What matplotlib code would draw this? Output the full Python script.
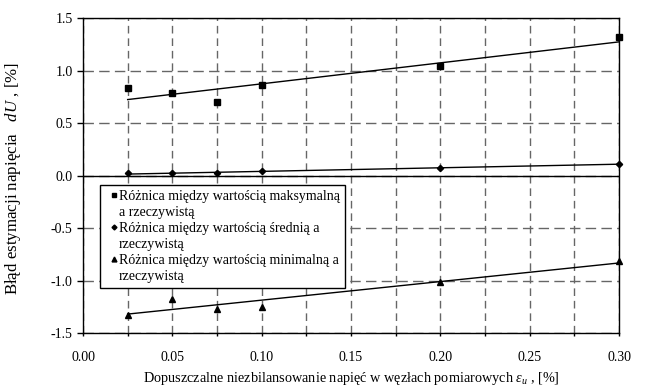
import numpy as np
import matplotlib
matplotlib.use("Agg")
import matplotlib.pyplot as plt
from matplotlib.lines import Line2D
from matplotlib.ticker import MultipleLocator, FormatStrFormatter

plt.rcParams['font.family'] = ['Liberation Serif', 'DejaVu Serif']
plt.rcParams['mathtext.fontset'] = 'custom'
plt.rcParams['mathtext.rm'] = 'Liberation Serif'
plt.rcParams['mathtext.it'] = 'Liberation Serif:italic'
plt.rcParams['axes.unicode_minus'] = False

# ---- data ----
eps = [0.025, 0.05, 0.075, 0.1, 0.2, 0.3]
diff_max = [0.84, 0.785, 0.70, 0.865, 1.045, 1.32]
diff_mean = [0.022, 0.022, 0.025, 0.048, 0.076, 0.111]
diff_min = [-1.325, -1.175, -1.27, -1.245, -1.015, -0.81]

labels_max = ["Różnica między wartością maksymalną", "a rzeczywistą"]
labels_mean = ["Różnica między wartością średnią a", "rzeczywistą"]
labels_min = ["Różnica między wartością minimalną a", "rzeczywistą"]

fig = plt.figure(figsize=(6.45, 3.89), dpi=100)
ax = fig.add_axes([83/645, 1 - 333.3/389, 536/645, 315/389])

ax.set_xlim(0, 0.30)
ax.set_ylim(-1.5, 1.5)

grid_color = '#666666'
ax.xaxis.set_major_locator(MultipleLocator(0.05))
ax.xaxis.set_minor_locator(MultipleLocator(0.025))
ax.yaxis.set_major_locator(MultipleLocator(0.5))
ax.xaxis.set_major_formatter(FormatStrFormatter('%.2f'))
ax.yaxis.set_major_formatter(FormatStrFormatter('%.1f'))
ax.grid(True, which='both', axis='x', color=grid_color, linewidth=1.0,
        linestyle=(0, (5.5, 3.5)))
ax.grid(True, which='major', axis='y', color=grid_color, linewidth=1.0,
        linestyle=(0, (7.5, 3.8)))
ax.set_axisbelow(True)
ax.axhline(0, color='black', linewidth=1.0, zorder=1.5)

ax.tick_params(axis='y', which='major', direction='out', length=4.5, width=1,
               pad=3, labelsize=10)
ax.tick_params(axis='x', which='both', direction='out', length=2, width=1,
               pad=11, labelsize=10)
ax.tick_params(axis='x', which='minor', labelbottom=False)
for s in ax.spines.values():
    s.set_linewidth(1.0)
    s.set_color('black')

xs = np.array(eps)
for vals, mk, ms in [(diff_max, 's', 5), (diff_mean, 'D', 3.2), (diff_min, '^', 5)]:
    ax.plot(eps, vals, linestyle='none', marker=mk, markersize=ms,
            color='black', zorder=3, clip_on=False)
    p = np.polyfit(xs, np.array(vals), 1)
    xl = np.array([eps[0], eps[-1]])
    ax.plot(xl, np.polyval(p, xl), color='black', linewidth=1.0, zorder=2.5)

ax.set_xlabel("Dopuszczalne niezbilansowanie napięć w węzłach pomiarowych $\\varepsilon_u$ , [%]",
              fontsize=10.3, labelpad=4)
ax.set_ylabel("Błąd estymacji napięcia   $dU$ , [%]", fontsize=12.2)
ax.yaxis.set_label_coords(-0.112, 0.491)

# legend (continuation lines get an empty handle)
empty = Line2D([], [], linestyle='none', marker=None)
handles = [
    Line2D([], [], linestyle='none', marker='s', markersize=3.5, color='black'), empty,
    Line2D([], [], linestyle='none', marker='D', markersize=2.5, color='black'), empty,
    Line2D([], [], linestyle='none', marker='^', markersize=3.5, color='black'), empty,
]
labels = labels_max + labels_mean + labels_min
leg = ax.legend(handles, labels, loc='upper left', bbox_to_anchor=(0.032, 0.471),
                borderaxespad=0, fontsize=10, labelspacing=0.22,
                handlelength=1.3, handletextpad=-0.3, borderpad=0.35,
                fancybox=False, framealpha=1, edgecolor='black')
leg.get_frame().set_linewidth(1.0)
leg.set_zorder(5)

fig.savefig("out.png", dpi=100)
